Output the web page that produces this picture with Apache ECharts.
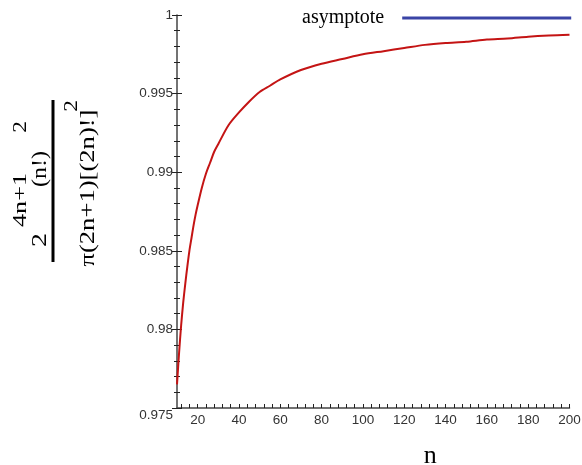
<!DOCTYPE html>
<html>
<head>
<meta charset="utf-8">
<script src="https://cdn.jsdelivr.net/npm/echarts@6/dist/echarts.min.js"></script>
<style>html,body{margin:0;padding:0;background:#fff}#c{width:582px;height:465px}</style>
</head>
<body>
<div id="c"></div>
<script>
var nValues = [10,11,12,13,14,15,16,17,18,19,20,22,24,26,28,30,35,40,45,50,55,60,70,80,90,100,110,120,130,140,150,160,170,180,190,200];
var ratioValues = [0.9765,0.9785,0.98025,0.9817,0.9829,0.9840,0.9850,0.9858,0.9866,0.9873,0.9879,0.9890,0.9899,0.9906,0.9913,0.9918,0.9930,0.9938,0.9945,0.9951,0.9955,0.9959,0.9965,0.9969,0.9972,0.9975,0.9977,0.9979,0.9981,0.99822,0.9983,0.99844,0.9985,0.99862,0.9987,0.99875];
var xTickLabels = [20,40,60,80,100,120,140,160,180,200];
var xMinorTicks = [];
for (var t = 12; t <= 200; t += 4) xMinorTicks.push(t);

var curve = nValues.map(function(n, i){ return [n, ratioValues[i]]; });

var serif = '"Liberation Serif", "Times New Roman", serif';
var sans = '"Liberation Sans", Arial, sans-serif';
function rtext(txt, x, y, size, sx){
  return {type:'text', x:x, y:y, rotation:Math.PI/2, scaleX:sx, scaleY:1.05,
    style:{text:txt, font:size+'px '+serif, fill:'#000', align:'center', verticalAlign:'middle', textAlign:'center', textVerticalAlign:'middle'}};
}

var chart = echarts.init(document.getElementById('c'), null, {renderer:'canvas'});
chart.setOption({
  animation:false,
  backgroundColor:'#fff',
  grid:{left:177, right:12.5, top:15, bottom:57, containLabel:false, outerBoundsMode:'none'},
  legend:{
    data:['asymptote'], left:297, top:3, align:'right', icon:'rect',
    itemWidth:169, itemHeight:3,
    textStyle:{fontFamily:serif, fontSize:20, color:'#000', padding:[0,13,0,0]}
  },
  xAxis:{
    type:'value', min:10, max:200,
    name:'n', nameLocation:'middle', nameGap:35,
    nameTextStyle:{fontFamily:serif, fontSize:26, color:'#000', padding:[0,0,0,114]},
    axisLine:{show:true, lineStyle:{color:'#444', width:1.5}},
    axisTick:{show:true, inside:true, length:4, customValues:xMinorTicks, lineStyle:{color:'#222', width:1}},
    axisLabel:{customValues:xTickLabels, margin:5, fontFamily:sans, fontSize:13.5, color:'#333'},
    splitLine:{show:false}
  },
  yAxis:[{
    type:'value', min:0.975, max:1, interval:0.005, position:'left',
    axisLine:{show:true, lineStyle:{color:'#444', width:1.5}},
    axisTick:{show:true, length:5, lineStyle:{color:'#222', width:1}},
    minorTick:{show:true, splitNumber:5, length:3, lineStyle:{color:'#222', width:1}},
    axisLabel:{margin:4, fontFamily:sans, fontSize:13.5, color:'#333',
      formatter:function(v){ var s = String(Math.round(v*1000)/1000); return Math.abs(v-0.975) < 1e-9 ? '{low|' + s + '}' : s; },
      rich:{low:{fontFamily:sans, fontSize:13.5, color:'#333', padding:[14,0,0,0]}}
    },
    splitLine:{show:false}
  },{
    type:'value', min:0.975, max:1, interval:0.005, position:'left', offset:0,
    axisLine:{show:false},
    axisTick:{show:true, inside:true, length:5, lineStyle:{color:'#222', width:1}},
    minorTick:{show:true, splitNumber:5, length:3, lineStyle:{color:'#222', width:1}},
    axisLabel:{show:false},
    splitLine:{show:false}
  }],
  series:[{
    name:'curve', type:'line', data:curve, showSymbol:false, symbol:'none', smooth:0.3,
    lineStyle:{color:'#c41414', width:2}, itemStyle:{color:'#c41414'}
  },{
    name:'asymptote', type:'line', data:[], symbol:'none',
    lineStyle:{color:'#3a44a6', width:3}, itemStyle:{color:'#3a44a6'}
  }],
  graphic:[
    rtext('2', 40, 240, 20, 1.4),
    rtext('4n+1', 21, 200, 18, 1.45),
    rtext('(n!)', 40, 169, 20, 1.2),
    rtext('2', 21, 127, 18, 1.3),
    {type:'line', shape:{x1:53, y1:100, x2:53, y2:262}, style:{stroke:'#000', lineWidth:3}},
    rtext('\u03c0(2n+1)[(2n)!]', 88, 188, 20, 1.33),
    rtext('2', 72, 106, 18, 1.3)
  ]
});
</script>
</body>
</html>
